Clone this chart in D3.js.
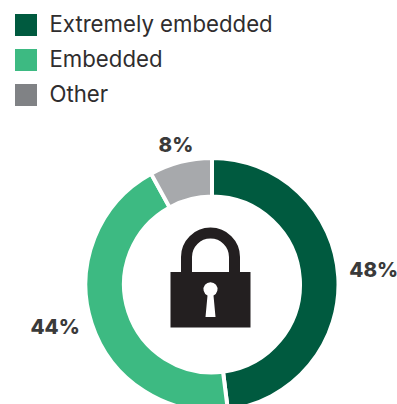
<!DOCTYPE html>
<html>
<head>
<meta charset="utf-8">
<script src="https://cdn.jsdelivr.net/npm/d3@7/dist/d3.min.js"></script>
<style>
html,body{margin:0;padding:0;background:#fff;overflow:hidden}
svg{display:block}
text{font-family:"Inter","Open Sans",sans-serif}
</style>
</head>
<body>
<svg id="chart" width="397" height="404"></svg>
<script>
const categories = ["Extremely embedded", "Embedded", "Other"];
const shares = [48, 44, 8];
const legendColors = ["#005a3f", "#3dba82", "#808285"];
const sliceColors = ["#005a3f", "#3dba82", "#a7a9ac"];
// Radial distance and vertical nudge of each percentage label
const labelRadii = [161, 165, 145];
const labelNudgeY = [-5, -9, 0];

const svg = d3.select("#chart");
const cx = 212, cy = 284.5, outerR = 126.5, innerR = 88;

// Legend
const legend = svg.append("g");
const legendY = d3.scalePoint().domain(categories).range([25, 95]);
legend.selectAll("rect").data(categories).join("rect")
  .attr("x", 15).attr("y", d => legendY(d) - 11)
  .attr("width", 22).attr("height", 22)
  .attr("fill", (d, i) => legendColors[i]);
legend.selectAll("text").data(categories).join("text")
  .attr("x", 49.5).attr("y", d => legendY(d) + 6.5)
  .attr("font-size", 22.2)
  .attr("fill", "#2f2d2e")
  .text(d => d);

// Donut
const pie = d3.pie().sort(null).value(d => d);
const arc = d3.arc().innerRadius(innerR).outerRadius(outerR);
const donut = svg.append("g").attr("transform", `translate(${cx},${cy})`);
const slices = pie(shares);
donut.selectAll("path").data(slices).join("path")
  .attr("d", arc)
  .attr("fill", (d, i) => sliceColors[i])
  .attr("stroke", "#fff").attr("stroke-width", 4);

donut.selectAll("text").data(slices).join("text")
  .attr("text-anchor", "middle")
  .attr("font-size", 20.5).attr("font-weight", 800)
  .attr("fill", "#3a3a3a")
  .attr("x", (d, i) => labelRadii[i] * Math.sin((d.startAngle + d.endAngle) / 2) + (i === 0 ? 1 : 0))
  .attr("y", (d, i) => -labelRadii[i] * Math.cos((d.startAngle + d.endAngle) / 2) + labelNudgeY[i] + 8)
  .text(d => d.value + "%");

// Padlock icon in the middle of the ring
const lock = svg.append("g").attr("transform", `translate(${cx - 1.5},${cy})`);
lock.append("path")
  .attr("fill", "none").attr("stroke", "#231f20").attr("stroke-width", 11)
  .attr("d", "M-24,-10 V-27.5 A24,24 0 0 1 24,-27.5 V-10");
lock.append("rect")
  .attr("x", -40).attr("y", -12.5).attr("width", 80).attr("height", 55.5)
  .attr("fill", "#231f20");
lock.append("path")
  .attr("fill", "#fff")
  .attr("d", "M-3,11 A7,7 0 1 1 3,11 L5,32.5 H-5 Z");
</script>
</body>
</html>
